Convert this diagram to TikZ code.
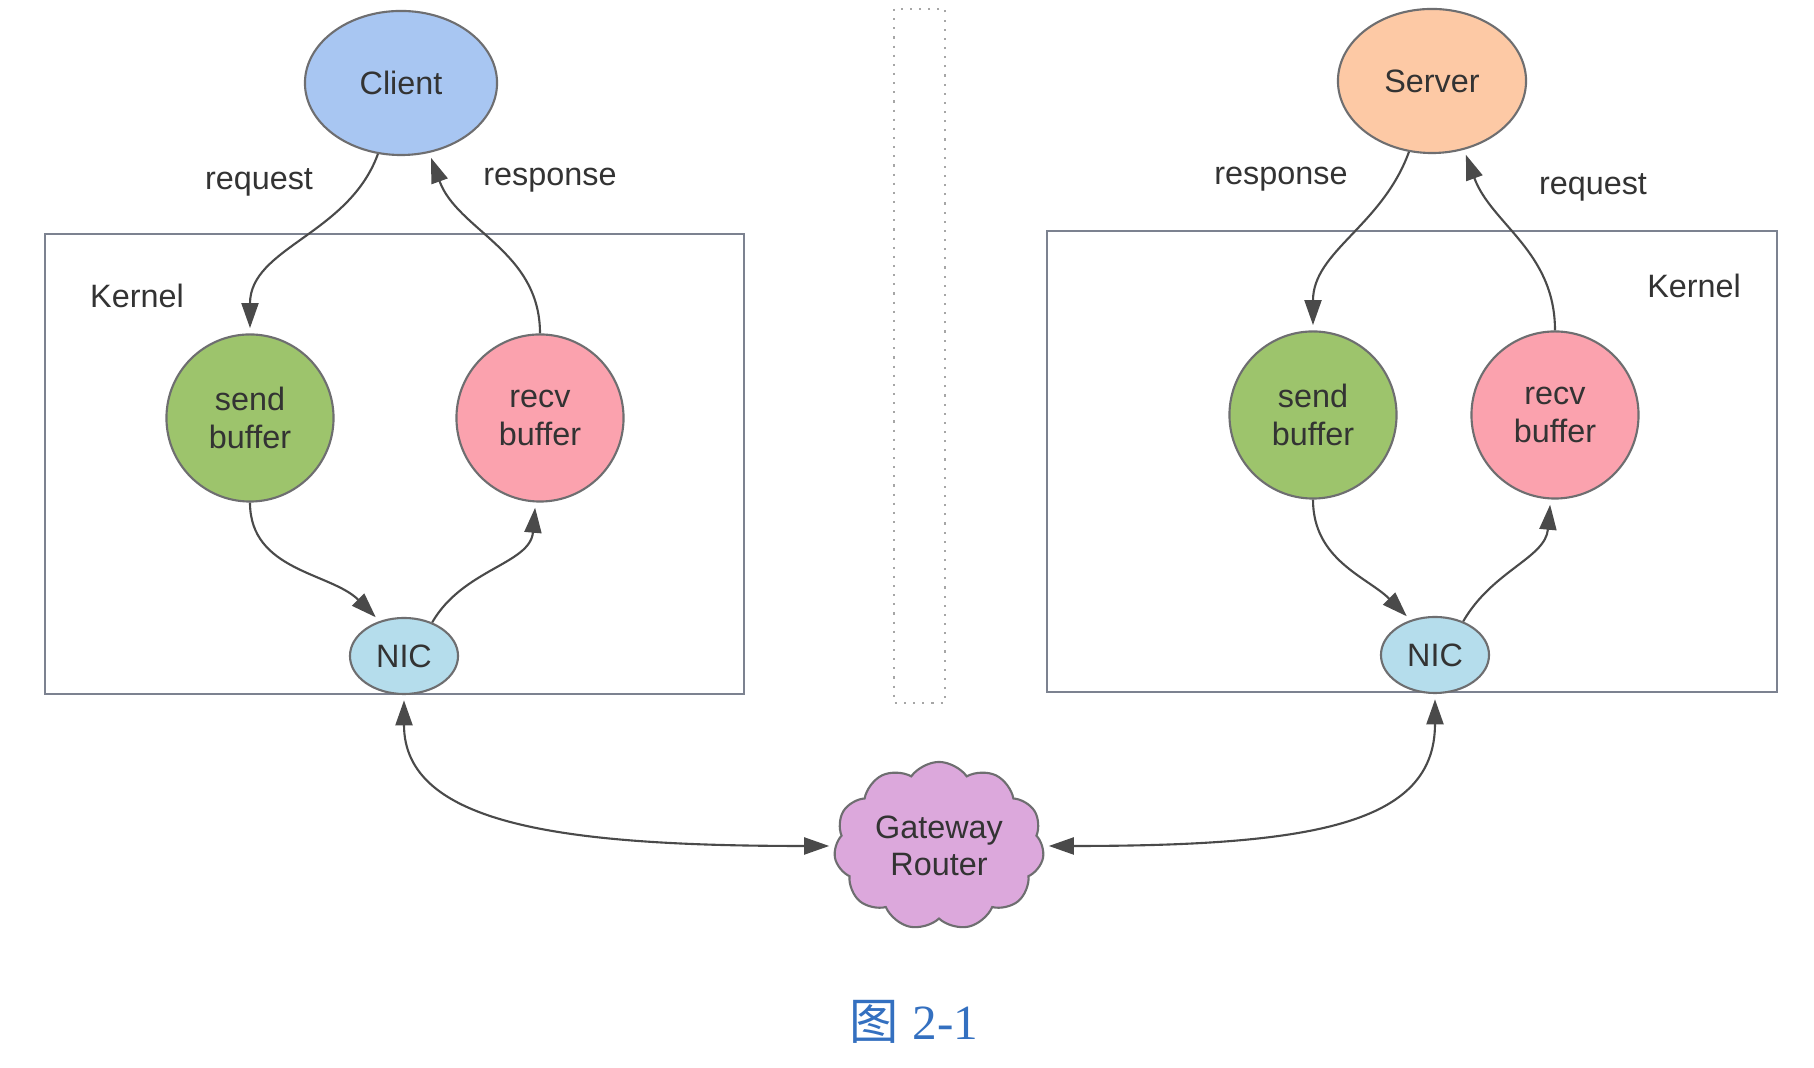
\documentclass[tikz,border=0pt]{standalone}
\usepackage{fontspec}
\setmainfont{Liberation Sans}
\newfontfamily\cjkfont{Noto Sans CJK SC}
\newfontfamily\capfont{Liberation Serif}
\usetikzlibrary{positioning,shapes.geometric,shapes.symbols,arrows.meta}

\definecolor{clientblue}{HTML}{A8C6F2}
\definecolor{serverpeach}{HTML}{FDC9A5}
\definecolor{sendgreen}{HTML}{9DC46C}
\definecolor{recvpink}{HTML}{FBA2AE}
\definecolor{nicblue}{HTML}{B5DDEC}
\definecolor{gwlilac}{HTML}{DCA8DC}
\definecolor{edgegray}{HTML}{6E6E70}
\definecolor{boxgray}{HTML}{7C8290}
\definecolor{linegray}{HTML}{4A4A4A}
\definecolor{txtgray}{HTML}{333333}
\definecolor{capblue}{HTML}{3470C0}

\begin{document}
\begin{tikzpicture}[x=0.01cm,y=0.01cm,
  every node/.style={font=\fontsize{9.2}{10.6}\selectfont,text=txtgray},
  bubble/.style={ellipse,draw=edgegray,line width=0.6pt,inner sep=0pt,align=center},
  bufnode/.style={bubble,minimum width=1.67cm,minimum height=1.67cm},
  nicnode/.style={bubble,fill=nicblue,minimum width=1.08cm,minimum height=0.76cm},
  conn/.style={draw=linegray,line width=0.6pt,shorten >=1.5pt,
    -{Triangle[length=2.5mm,width=1.7mm]}},
  dconn/.style={conn,shorten <=1.5pt,
    {Triangle[length=2.5mm,width=1.7mm]}-{Triangle[length=2.5mm,width=1.7mm]}}]
\fill[white] (0,0) rectangle (1814,-1068);
\useasboundingbox (0,0) rectangle (1814,-1068);

% kernel boxes and the divider
\draw[boxgray,line width=0.6pt] (45,-234) rectangle (744,-694);
\draw[boxgray,line width=0.6pt] (1047,-231) rectangle (1777,-692);
\draw[black!35,dotted,line width=0.6pt] (894,-9) rectangle (945,-703);
\node (lkernel) at (137,-296) {Kernel};
\node (rkernel) at (1694,-286) {Kernel};

% client side
\node[bubble,fill=clientblue,minimum width=1.92cm,minimum height=1.44cm] (client) at (401,-83) {Client};
\node[bufnode,fill=sendgreen] (lsend) at (250,-418) {send\\buffer};
\node[bufnode,fill=recvpink] (lrecv) at (540,-418) {recv\\buffer};
\node[nicnode] (lnic) at (404,-656) {NIC};

% server side
\node[bubble,fill=serverpeach,minimum width=1.88cm,minimum height=1.44cm] (server) at (1432,-81) {Server};
\node[bufnode,fill=sendgreen] (rsend) at (1313,-415) {send\\buffer};
\node[bufnode,fill=recvpink] (rrecv) at (1555,-415) {recv\\buffer};
\node[nicnode] (rnic) at (1435,-655) {NIC};

% router
\node[cloud,cloud puffs=11,cloud puff arc=110,cloud ignores aspect,draw=edgegray,
  line width=0.6pt,fill=gwlilac,minimum width=2.1cm,minimum height=1.68cm,
  align=center,inner sep=0pt] (gw) at (939,-846) {Gateway\\Router};

% labels
\node (lreq) at (259,-182) {request};
\node (lresp) at (550,-180) {response};
\node (rresp) at (1281,-179) {response};
\node (rreq) at (1593,-187) {request};

% connectors
\draw[conn] (client.-108) to[out=-110,in=90] (lsend.north);
\draw[conn] (lrecv.north) to[out=90,in=-70] (client.-68);
\draw[conn] (lsend.south) to[out=-90,in=135] (lnic.125);
\draw[conn] (lnic.50) to[out=60,in=-95] (lrecv.-93);
\draw[conn] (server.-108) to[out=-110,in=90] (rsend.north);
\draw[conn] (rrecv.north) to[out=90,in=-70] (server.-65);
\draw[conn] (rsend.south) to[out=-90,in=135] (rnic.125);
\draw[conn] (rnic.50) to[out=60,in=-95] (rrecv.-93);
\draw[dconn] (lnic.south) to[out=-90,in=180,out distance=1.3cm,in distance=2.7cm] (gw.west);
\draw[dconn] (rnic.south) to[out=-90,in=0,out distance=1.3cm,in distance=2.7cm] (gw.east);

% caption
\node[text=capblue,font=\fontsize{14}{16}\selectfont] (cap) at (914,-1022) {{\cjkfont 图} {\capfont 2-1}};
\end{tikzpicture}
\end{document}
